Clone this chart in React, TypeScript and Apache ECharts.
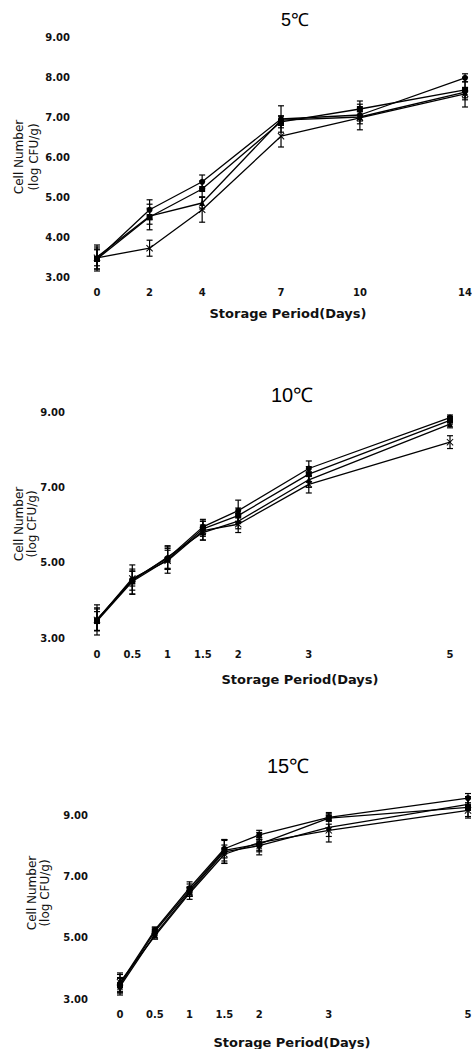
import React, { useEffect, useRef } from "react";
import * as echarts from "echarts";

// ---- 5 ℃ ----
const days5 = [0, 2, 4, 7, 10, 14];
const a5 = [3.45, 4.68, 5.38, 6.95, 7.05, 7.98];
const b5 = [3.45, 4.5, 5.2, 6.88, 7.2, 7.68];
const c5 = [3.5, 4.52, 4.85, 6.92, 7.0, 7.62];
const d5 = [3.48, 3.72, 4.68, 6.52, 6.98, 7.58];
const ea5 = [0.3, 0.25, 0.17, 0.33, 0.15, 0.1];
const eb5 = [0.25, 0.32, 0.2, 0.15, 0.2, 0.2];
const ec5 = [0.3, 0.2, 0.15, 0.1, 0.32, 0.37];
const ed5 = [0.2, 0.2, 0.31, 0.27, 0.15, 0.15];

// ---- 10 ℃ ----
const days10 = [0, 0.5, 1, 1.5, 2, 3, 5];
const a10 = [3.48, 4.55, 5.12, 5.95, 6.38, 7.5, 8.85];
const b10 = [3.45, 4.5, 5.08, 5.9, 6.25, 7.35, 8.78];
const c10 = [3.5, 4.52, 5.15, 5.8, 6.1, 7.2, 8.68];
const d10 = [3.48, 4.58, 5.05, 5.85, 6.02, 7.08, 8.2];
const ea10 = [0.29, 0.39, 0.3, 0.2, 0.28, 0.2, 0.07];
const eb10 = [0.25, 0.33, 0.25, 0.2, 0.2, 0.2, 0.1];
const ec10 = [0.3, 0.25, 0.3, 0.2, 0.2, 0.2, 0.1];
const ed10 = [0.4, 0.2, 0.33, 0.25, 0.22, 0.23, 0.17];

// ---- 15 ℃ ----
const days15 = [0, 0.5, 1, 1.5, 2, 3, 5];
const a15 = [3.5, 5.25, 6.62, 7.9, 8.35, 8.92, 9.55];
const b15 = [3.45, 5.2, 6.55, 7.85, 8.05, 8.9, 9.25];
const c15 = [3.4, 5.1, 6.5, 7.8, 8.0, 8.6, 9.35];
const d15 = [3.55, 5.05, 6.45, 7.72, 8.1, 8.5, 9.15];
const ea15 = [0.3, 0.1, 0.2, 0.3, 0.08, 0.12, 0.15];
const eb15 = [0.25, 0.12, 0.2, 0.35, 0.2, 0.1, 0.35];
const ec15 = [0.27, 0.1, 0.15, 0.37, 0.2, 0.48, 0.2];
const ed15 = [0.3, 0.1, 0.2, 0.3, 0.4, 0.2, 0.2];

const titles = ["5℃", "10℃", "15℃"];
const xTitle = "Storage Period(Days)";
const yTitle = "Cell Number\n(log CFU/g)";
const xTicks = [days5, days10, days15];
const xMax = [14, 5, 5];
const yInterval = [1, 2, 2];

const markerSymbols = [
  "circle",
  "rect",
  "triangle",
  "path://M0,1L1,0L5,4L9,0L10,1L6,5L10,9L9,10L5,6L1,10L0,9L4,5Z",
];

const panelSeries = [
  { days: days5, means: [a5, b5, c5, d5], errs: [ea5, eb5, ec5, ed5] },
  { days: days10, means: [a10, b10, c10, d10], errs: [ea10, eb10, ec10, ed10] },
  { days: days15, means: [a15, b15, c15, d15], errs: [ea15, eb15, ec15, ed15] },
];

// layout (pixels)
const grids = [
  { left: 97, top: 37, width: 373, height: 240 },
  { left: 97, top: 412, width: 353, height: 226 },
  { left: 120, top: 815, width: 348, height: 184 },
];
const xLabelMargin = [10, 11, 10];
const yLabelMargin = [27, 32, 32];
const titlePos = [
  [295, 20, 18],
  [292, 395, 20],
  [288, 766, 20],
];
const xTitlePos = [
  [288, 313],
  [300, 679],
  [292, 1042],
];
const yTitlePos = [
  [26.5, 157, 15],
  [25, 524, 13],
  [38.5, 893, 13],
];

const FONT = "DejaVu Sans";

function buildOption() {
  const grid: any[] = [];
  const xAxis: any[] = [];
  const yAxis: any[] = [];
  const series: any[] = [];
  const graphic: any[] = [];

  for (let p = 0; p < 3; p++) {
    grid.push({ ...grids[p], containLabel: false });
    xAxis.push({
      type: "value",
      gridIndex: p,
      min: 0,
      max: xMax[p],
      axisLine: { show: false },
      axisTick: { show: false },
      splitLine: { show: false },
      axisLabel: {
        customValues: xTicks[p],
        margin: xLabelMargin[p],
        fontFamily: FONT,
        fontWeight: "bold",
        fontSize: 10,
        color: "#111",
        formatter: (v: number) => String(v),
      },
    });
    yAxis.push({
      type: "value",
      gridIndex: p,
      min: 3,
      max: 9,
      interval: yInterval[p],
      axisLine: { show: false },
      axisTick: { show: false },
      splitLine: { show: false },
      axisLabel: {
        margin: yLabelMargin[p],
        fontFamily: FONT,
        fontWeight: "bold",
        fontSize: 10,
        color: "#111",
        formatter: (v: number) => v.toFixed(2),
      },
    });

    const ps = panelSeries[p];
    for (let s = 0; s < 4; s++) {
      const means = ps.means[s];
      const errs = ps.errs[s];
      series.push({
        type: "custom",
        xAxisIndex: p,
        yAxisIndex: p,
        clip: false,
        z: 2,
        encode: { x: 0, y: [1, 2] },
        data: ps.days.map((d, i) => [d, means[i] - errs[i], means[i] + errs[i]]),
        renderItem: (params: any, api: any) => {
          const x = api.value(0);
          const lo = api.coord([x, api.value(1)]);
          const hi = api.coord([x, api.value(2)]);
          const w = 3;
          const st = { stroke: "#000", lineWidth: 1.2 };
          return {
            type: "group",
            children: [
              { type: "line", shape: { x1: lo[0], y1: lo[1], x2: hi[0], y2: hi[1] }, style: st },
              { type: "line", shape: { x1: lo[0] - w, y1: lo[1], x2: lo[0] + w, y2: lo[1] }, style: st },
              { type: "line", shape: { x1: hi[0] - w, y1: hi[1], x2: hi[0] + w, y2: hi[1] }, style: st },
            ],
          };
        },
      });
      series.push({
        type: "line",
        xAxisIndex: p,
        yAxisIndex: p,
        clip: false,
        z: 3,
        symbol: markerSymbols[s],
        symbolSize: s === 3 ? 7 : 6,
        showSymbol: true,
        lineStyle: { color: "#000", width: 1.3 },
        itemStyle: { color: "#000" },
        data: ps.days.map((d, i) => [d, means[i]]),
      });
    }

    graphic.push({
      type: "text",
      x: titlePos[p][0],
      y: titlePos[p][1],
      style: {
        text: titles[p],
        fontFamily: "Liberation Sans",
        fontSize: titlePos[p][2],
        fill: "#000",
        textAlign: "center",
        textVerticalAlign: "middle",
      },
    });
    graphic.push({
      type: "text",
      x: xTitlePos[p][0],
      y: xTitlePos[p][1],
      style: {
        text: xTitle,
        fontFamily: FONT,
        fontWeight: "bold",
        fontSize: 13,
        fill: "#111",
        textAlign: "center",
        textVerticalAlign: "middle",
      },
    });
    graphic.push({
      type: "text",
      x: yTitlePos[p][0],
      y: yTitlePos[p][1],
      rotation: Math.PI / 2,
      style: {
        text: yTitle,
        fontFamily: FONT,
        fontSize: 12,
        lineHeight: yTitlePos[p][2],
        fill: "#111",
        textAlign: "center",
        textVerticalAlign: "middle",
      },
    });
  }

  return {
    animation: false,
    backgroundColor: "#fff",
    grid,
    xAxis,
    yAxis,
    series,
    graphic,
  };
}

export default function App() {
  const ref = useRef<HTMLDivElement>(null);
  useEffect(() => {
    document.body.style.margin = "0";
    const chart = echarts.init(ref.current!, undefined, { renderer: "svg" });
    chart.setOption(buildOption() as any);
    return () => chart.dispose();
  }, []);
  return <div ref={ref} style={{ width: 475, height: 1049 }} />;
}
